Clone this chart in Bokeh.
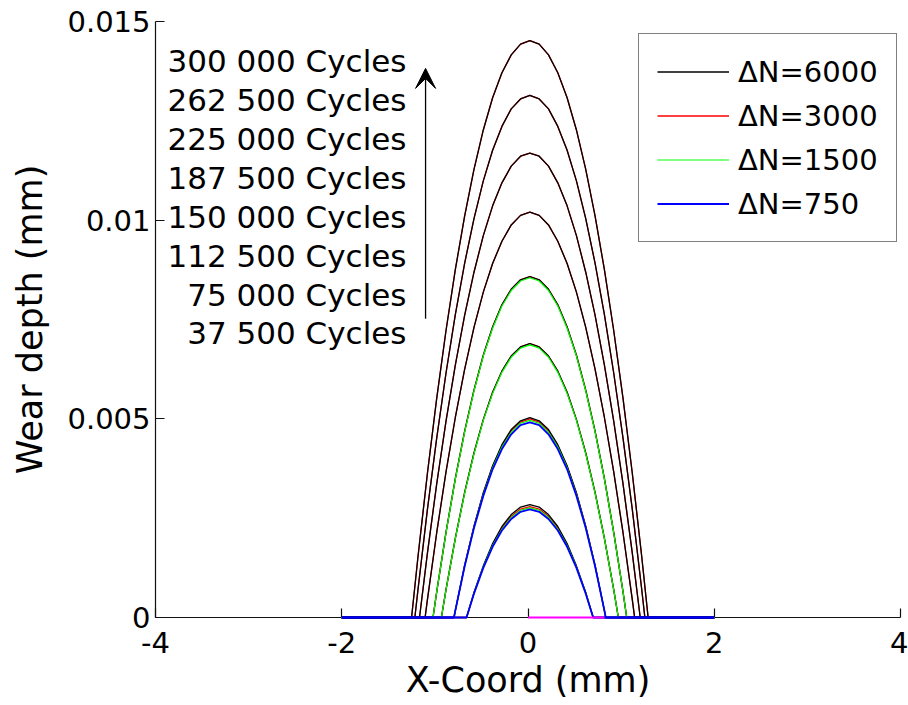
from bokeh.plotting import figure
from bokeh.models import (Range1d, FixedTicker, Legend, LegendItem, Label,
                          Arrow, VeeHead, ColumnDataSource)
from bokeh.embed import file_html
from bokeh.resources import INLINE

# ---------------- data ----------------
CYCLE_LABELS = ["37 500 Cycles", "75 000 Cycles", "112 500 Cycles", "150 000 Cycles",
                "187 500 Cycles", "225 000 Cycles", "262 500 Cycles", "300 000 Cycles"]
SERIES_LABELS = ["\u0394N=6000", "\u0394N=3000", "\u0394N=1500", "\u0394N=750"]
X_TICKS = [-4, -2, 0, 2, 4]
X_TICK_LABELS = ["-4", "-2", "0", "2", "4"]
Y_TICKS = [0.0, 0.005, 0.01, 0.015]
Y_TICK_LABELS = ["0", "0.005", "0.01", "0.015"]

X_37500 = [-2.0, -0.66, -0.58, -0.48, -0.38, -0.28, -0.18, -0.08, 0.02, 0.12, 0.22,
           0.32, 0.42, 0.52, 0.62, 0.70, 2.0]
X_75000 = [-2.0, -0.795, -0.78, -0.68, -0.58, -0.48, -0.38, -0.28, -0.18, -0.08, 0.02,
           0.12, 0.22, 0.32, 0.42, 0.52, 0.62, 0.72, 0.82, 0.835, 2.0]
X_112500 = [-2.0, -0.93, -0.88, -0.78, -0.68, -0.58, -0.48, -0.38, -0.28, -0.18, -0.08,
            0.02, 0.12, 0.22, 0.32, 0.42, 0.52, 0.62, 0.72, 0.82, 0.92, 0.97, 2.0]
X_150000 = [-2.0, -1.02, -0.98, -0.88, -0.78, -0.68, -0.58, -0.48, -0.38, -0.28, -0.18,
            -0.08, 0.02, 0.12, 0.22, 0.32, 0.42, 0.52, 0.62, 0.72, 0.82, 0.92, 1.02,
            1.06, 2.0]
X_187500 = [-2.0, -1.105, -1.08, -0.98, -0.88, -0.78, -0.68, -0.58, -0.48, -0.38, -0.28,
            -0.18, -0.08, 0.02, 0.12, 0.22, 0.32, 0.42, 0.52, 0.62, 0.72, 0.82, 0.92,
            1.02, 1.12, 1.145, 2.0]
X_225000 = [-2.0, -1.165, -1.08, -0.98, -0.88, -0.78, -0.68, -0.58, -0.48, -0.38, -0.28,
            -0.18, -0.08, 0.02, 0.12, 0.22, 0.32, 0.42, 0.52, 0.62, 0.72, 0.82, 0.92,
            1.02, 1.12, 1.205, 2.0]
X_262500 = [-2.0, -1.215, -1.18, -1.08, -0.98, -0.88, -0.78, -0.68, -0.58, -0.48, -0.38,
            -0.28, -0.18, -0.08, 0.02, 0.12, 0.22, 0.32, 0.42, 0.52, 0.62, 0.72, 0.82,
            0.92, 1.02, 1.12, 1.22, 1.255, 2.0]
X_300000 = [-2.0, -1.25, -1.18, -1.08, -0.98, -0.88, -0.78, -0.68, -0.58, -0.48, -0.38,
            -0.28, -0.18, -0.08, 0.02, 0.12, 0.22, 0.32, 0.42, 0.52, 0.62, 0.72, 0.82,
            0.92, 1.02, 1.12, 1.22, 1.29, 2.0]

# wear depth (mm), dN = 6000 (black)
D6000_37500 = [0, 0, 0.00063, 0.00130, 0.00186, 0.00229, 0.00259, 0.00278, 0.00284,
               0.00278, 0.00259, 0.00229, 0.00186, 0.00130, 0.00063, 0, 0]
D6000_75000 = [0, 0, 0.00018, 0.00132, 0.00230, 0.00314, 0.00382, 0.00435, 0.00473,
               0.00495, 0.00503, 0.00495, 0.00473, 0.00435, 0.00382, 0.00314, 0.00230,
               0.00132, 0.00018, 0, 0]
D6000_112500 = [0, 0, 0.00071, 0.00200, 0.00315, 0.00414, 0.00498, 0.00567, 0.00620,
                0.00658, 0.00681, 0.00689, 0.00681, 0.00658, 0.00620, 0.00567, 0.00498,
                0.00414, 0.00315, 0.00200, 0.00071, 0, 0]
D6000_150000 = [0, 0, 0.00065, 0.00215, 0.00350, 0.00469, 0.00572, 0.00660, 0.00731,
                0.00787, 0.00826, 0.00850, 0.00858, 0.00850, 0.00826, 0.00787, 0.00731,
                0.00660, 0.00572, 0.00469, 0.00350, 0.00215, 0.00065, 0, 0]
D6000_187500 = [0, 0, 0.00045, 0.00214, 0.00367, 0.00504, 0.00625, 0.00730, 0.00819,
                0.00891, 0.00947, 0.00988, 0.01012, 0.01020, 0.01012, 0.00988, 0.00947,
                0.00891, 0.00819, 0.00730, 0.00625, 0.00504, 0.00367, 0.00214, 0.00045,
                0, 0]
D6000_225000 = [0, 0, 0.00162, 0.00337, 0.00495, 0.00636, 0.00761, 0.00869, 0.00961,
                0.01036, 0.01094, 0.01136, 0.01161, 0.01169, 0.01161, 0.01136, 0.01094,
                0.01036, 0.00961, 0.00869, 0.00761, 0.00636, 0.00495, 0.00337, 0.00162,
                0, 0]
D6000_262500 = [0, 0, 0.00073, 0.00272, 0.00452, 0.00616, 0.00763, 0.00892, 0.01004,
                0.01099, 0.01176, 0.01236, 0.01280, 0.01305, 0.01314, 0.01305, 0.01280,
                0.01236, 0.01176, 0.01099, 0.01004, 0.00892, 0.00763, 0.00616, 0.00452,
                0.00272, 0.00073, 0, 0]
D6000_300000 = [0, 0, 0.00156, 0.00363, 0.00552, 0.00723, 0.00876, 0.01011, 0.01128,
                0.01227, 0.01308, 0.01371, 0.01416, 0.01443, 0.01452, 0.01443, 0.01416,
                0.01371, 0.01308, 0.01227, 0.01128, 0.01011, 0.00876, 0.00723, 0.00552,
                0.00363, 0.00156, 0, 0]

# dN = 3000 (red) - differs visibly only on the two lowest profiles
D3000_37500 = [0, 0, 0.00062, 0.00128, 0.00182, 0.00225, 0.00255, 0.00273, 0.00279,
               0.00273, 0.00255, 0.00225, 0.00182, 0.00128, 0.00062, 0, 0]
D3000_75000 = [0, 0, 0.00018, 0.00131, 0.00229, 0.00312, 0.00380, 0.00432, 0.00470,
               0.00492, 0.00500, 0.00492, 0.00470, 0.00432, 0.00380, 0.00312, 0.00229,
               0.00131, 0.00018, 0, 0]

# dN = 1500 (green), computed up to 150 000 cycles
D1500_37500 = [0, 0, 0.00061, 0.00127, 0.00181, 0.00222, 0.00252, 0.00270, 0.00276,
               0.00270, 0.00252, 0.00222, 0.00181, 0.00127, 0.00061, 0, 0]
D1500_75000 = [0, 0, 0.00018, 0.00130, 0.00227, 0.00309, 0.00377, 0.00429, 0.00466,
               0.00489, 0.00496, 0.00489, 0.00466, 0.00429, 0.00377, 0.00309, 0.00227,
               0.00130, 0.00018, 0, 0]
D1500_112500 = [0, 0, 0.00070, 0.00199, 0.00313, 0.00412, 0.00496, 0.00564, 0.00617,
                0.00655, 0.00678, 0.00686, 0.00678, 0.00655, 0.00617, 0.00564, 0.00496,
                0.00412, 0.00313, 0.00199, 0.00070, 0, 0]
D1500_150000 = [0, 0, 0.00065, 0.00214, 0.00349, 0.00467, 0.00570, 0.00658, 0.00728,
                0.00784, 0.00823, 0.00847, 0.00855, 0.00847, 0.00823, 0.00784, 0.00728,
                0.00658, 0.00570, 0.00467, 0.00349, 0.00214, 0.00065, 0, 0]

# dN = 750 (blue), computed up to 75 000 cycles
D750_37500 = [0, 0, 0.00060, 0.00125, 0.00178, 0.00219, 0.00248, 0.00266, 0.00272,
              0.00266, 0.00248, 0.00219, 0.00178, 0.00125, 0.00060, 0, 0]
D750_75000 = [0, 0, 0.00018, 0.00129, 0.00225, 0.00306, 0.00373, 0.00424, 0.00461,
              0.00484, 0.00491, 0.00484, 0.00461, 0.00424, 0.00373, 0.00306, 0.00225,
              0.00129, 0.00018, 0, 0]

# small contact-zone segment drawn in magenta along the surface
MAGENTA_X = [0.0, 0.82]
MAGENTA_Y = [0.0, 0.0]

CURVE_X = [X_37500, X_75000, X_112500, X_150000, X_187500, X_225000, X_262500, X_300000]
DEPTH_DN6000 = [D6000_37500, D6000_75000, D6000_112500, D6000_150000,
                D6000_187500, D6000_225000, D6000_262500, D6000_300000]
DEPTH_DN3000 = [D3000_37500, D3000_75000, D6000_112500, D6000_150000,
                D6000_187500, D6000_225000, D6000_262500, D6000_300000]
DEPTH_DN1500 = [D1500_37500, D1500_75000, D1500_112500, D1500_150000]
DEPTH_DN750 = [D750_37500, D750_75000]

# ---------------- figure ----------------
FONT = "DejaVu Sans"
p = figure(width=908, height=705, x_range=Range1d(-4, 4), y_range=Range1d(0, 0.015),
           output_backend="svg", toolbar_location=None,
           min_border_left=155, min_border_right=8, min_border_top=21,
           min_border_bottom=88)
p.outline_line_color = None
p.xgrid.visible = False
p.ygrid.visible = False
p.background_fill_color = "white"
p.border_fill_color = "white"

def add_series(depths, color, width):
    src = ColumnDataSource(dict(xs=CURVE_X[:len(depths)], ys=depths))
    r = p.multi_line("xs", "ys", source=src, line_color=color, line_width=width)
    r.level = "overlay"
    return r

r_red = add_series(DEPTH_DN3000, "#ff0000", 1.3)
r_black = add_series(DEPTH_DN6000, "#000000", 1.3)
r_green = add_series(DEPTH_DN1500, "#00ff00", 1.2)
r_blue = add_series(DEPTH_DN750, "#0000ff", 1.8)
r_mag = p.line(MAGENTA_X, MAGENTA_Y, line_color="#ff00ff", line_width=2)
r_mag.level = "overlay"

# axes
p.xaxis.ticker = FixedTicker(ticks=X_TICKS)
p.yaxis.ticker = FixedTicker(ticks=Y_TICKS)
p.xaxis.major_label_overrides = {t: l for t, l in zip(X_TICKS, X_TICK_LABELS)}
p.yaxis.major_label_overrides = {t: l for t, l in zip(Y_TICKS, Y_TICK_LABELS)}
p.xaxis.axis_label = "X-Coord (mm)"
p.yaxis.axis_label = "Wear depth (mm)"
for ax in (p.xaxis[0], p.yaxis[0]):
    ax.major_tick_in = 9
    ax.major_tick_out = 0
    ax.minor_tick_in = 0
    ax.minor_tick_out = 0
    ax.axis_line_color = "#111111"
    ax.axis_line_width = 1.2
    ax.major_tick_line_color = "#111111"
    ax.major_tick_line_width = 1.2
    ax.major_label_text_font = FONT
    ax.major_label_text_font_size = "29px"
    ax.major_label_text_color = "black"
    ax.axis_label_text_font = FONT
    ax.axis_label_text_font_size = "35px"
    ax.axis_label_text_font_style = "normal"
    ax.axis_label_text_color = "black"
p.xaxis.major_label_standoff = 14
p.yaxis.major_label_standoff = 5
p.xaxis.axis_label_standoff = 4
p.yaxis.axis_label_standoff = 14

# legend
legend = Legend(items=[LegendItem(label=SERIES_LABELS[0], renderers=[r_black]),
                       LegendItem(label=SERIES_LABELS[1], renderers=[r_red]),
                       LegendItem(label=SERIES_LABELS[2], renderers=[r_green]),
                       LegendItem(label=SERIES_LABELS[3], renderers=[r_blue])],
                location=(483, 375), border_line_color="black", border_line_width=1.2,
                background_fill_color="white", background_fill_alpha=1.0,
                label_text_font=FONT, label_text_font_size="29px",
                label_text_color="black", glyph_width=72, glyph_height=39,
                label_standoff=9, spacing=5, padding=18, margin=0)
p.add_layout(legend)

# cycle annotations and arrow
LABEL_X = -1.305
LABEL_Y0 = 0.00715
LABEL_DY = 0.000978
for i, txt in enumerate(CYCLE_LABELS):
    p.add_layout(Label(x=LABEL_X, y=LABEL_Y0 + i * LABEL_DY, text=txt,
                       text_align="right", text_baseline="middle",
                       text_font=FONT, text_font_size="31px", text_color="black"))

p.add_layout(Arrow(end=VeeHead(size=20, fill_color="black", line_color="black"),
                   x_start=-1.10, y_start=0.00752, x_end=-1.10, y_end=0.01382,
                   line_color="black", line_width=1.3))

open("out.html", "w").write(file_html(p, INLINE))
